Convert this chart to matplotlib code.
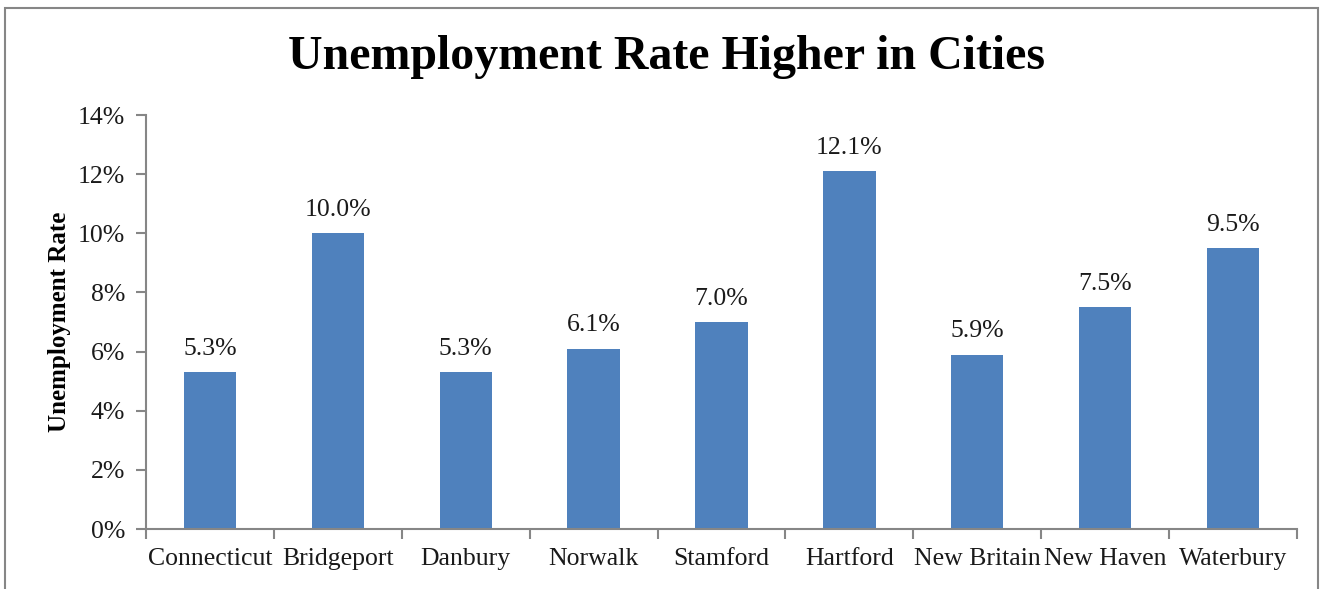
import matplotlib
matplotlib.use("Agg")
import matplotlib.pyplot as plt
from matplotlib.patches import Rectangle
from matplotlib.ticker import FixedLocator, FuncFormatter

cities = ["Connecticut", "Bridgeport", "Danbury", "Norwalk", "Stamford",
          "Hartford", "New Britain", "New Haven", "Waterbury"]
rates = [5.3, 10.0, 5.3, 6.1, 7.0, 12.1, 5.9, 7.5, 9.5]
y_ticks = [0, 2, 4, 6, 8, 10, 12, 14]

plt.rcParams["font.family"] = ["Liberation Serif", "DejaVu Serif"]

fig = plt.figure(figsize=(13.23, 5.89), dpi=100)
fig.patch.set_facecolor("white")

# thin grey frame around the chart area
fig.patches.append(Rectangle((5 / 1323, -0.05), (1318 - 5) / 1323, 1.05 - 8 / 589,
                             transform=fig.transFigure, fill=False,
                             edgecolor="#868686", linewidth=1.5))

ax = fig.add_axes([146 / 1323, 1 - 529 / 589, (1297 - 146) / 1323, (529 - 115) / 589])

x = list(range(len(cities)))
ax.bar(x, rates, width=0.41, color="#4F81BD", zorder=2)

for xi, v in zip(x, rates):
    ax.text(xi, v + 0.42, f"{v:.1f}%", ha="center", va="bottom", fontsize=18.5, color="#1a1a1a")

ax.set_xlim(-0.5, len(cities) - 0.5)
ax.set_ylim(0, 14)
ax.set_yticks(y_ticks)
ax.yaxis.set_major_formatter(FuncFormatter(lambda v, p: f"{v:.0f}%"))

ax.set_xticks(x)
ax.set_xticklabels(cities)
ax.xaxis.set_minor_locator(FixedLocator([i - 0.5 for i in range(len(cities) + 1)]))
ax.tick_params(axis="x", which="major", length=0, pad=14, labelsize=18.5, labelcolor="#1a1a1a")
ax.tick_params(axis="x", which="minor", length=7, width=1.5, color="#868686", direction="out")
ax.tick_params(axis="y", length=7, width=1.5, color="#868686", direction="out",
               labelsize=18.5, pad=8, labelcolor="#1a1a1a")

for side in ["top", "right"]:
    ax.spines[side].set_visible(False)
for side in ["left", "bottom"]:
    ax.spines[side].set_color("#868686")
    ax.spines[side].set_linewidth(1.5)

ax.set_ylabel("Unemployment Rate", fontsize=18, fontweight="bold", labelpad=5)
fig.text(667 / 1323, 1 - 57 / 589, "Unemployment Rate Higher in Cities",
         ha="center", va="center", fontsize=34.5, fontweight="bold")

fig.savefig("out.png", dpi=100)
